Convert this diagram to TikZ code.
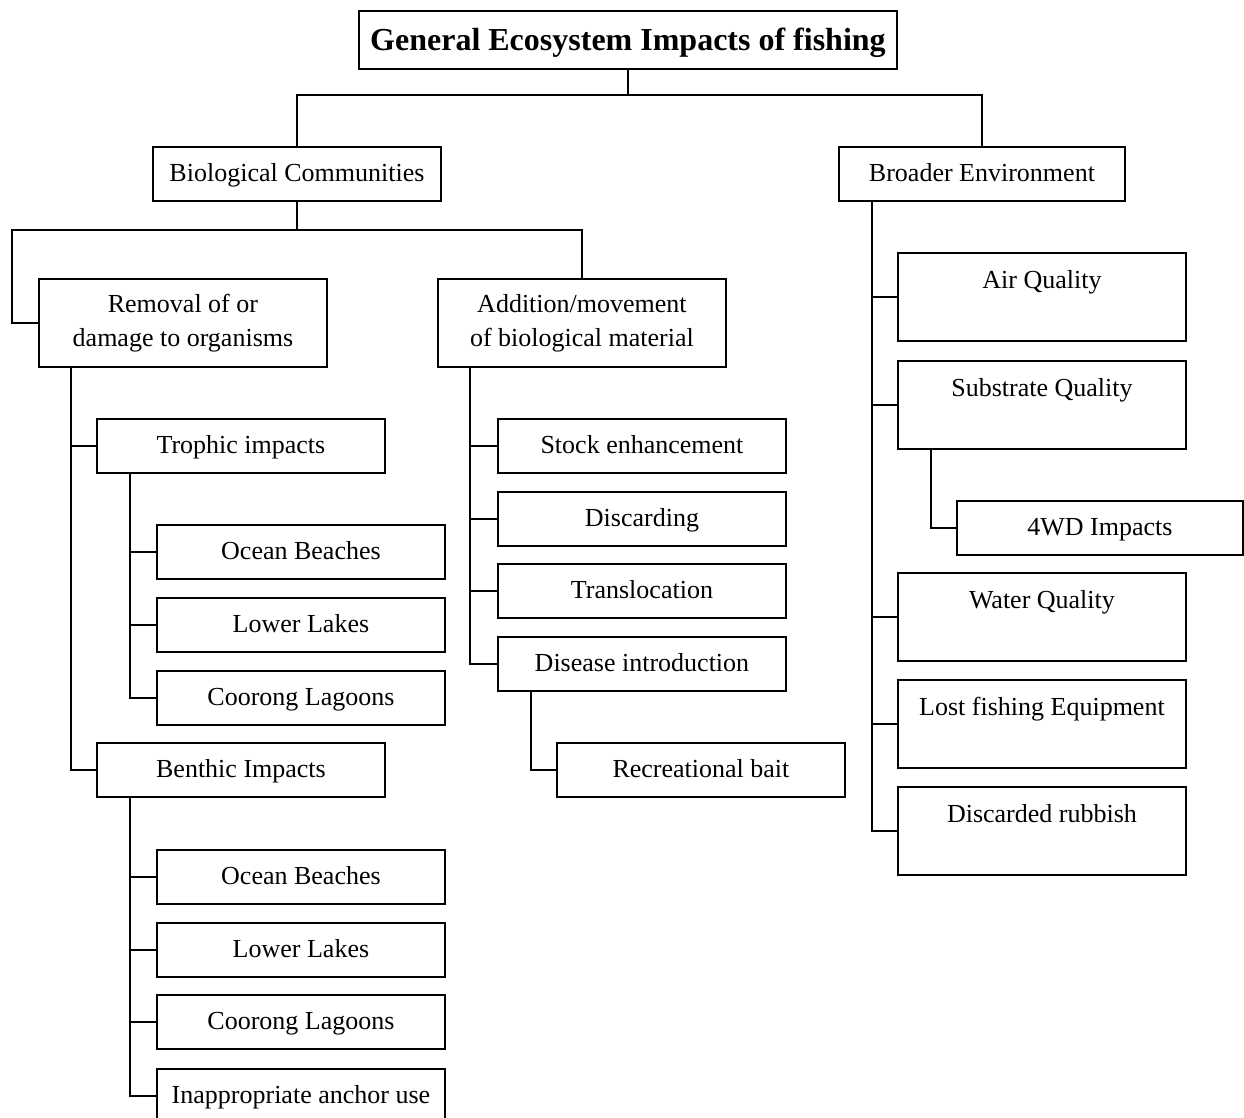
\documentclass[tikz,border=0pt]{standalone}
\usepackage{fontspec}
\setmainfont{Liberation Serif}
\begin{document}
\begin{tikzpicture}[x=1pt,y=-1pt,
  box/.style={draw, line width=1.9pt, anchor=north west, inner sep=0pt,
    minimum width=288pt, text height=35pt, text depth=19pt,
    font=\fontsize{26}{34}\selectfont},
  tallbox/.style={box, text height=36pt, text depth=52pt},
  twobox/.style={draw, line width=1.9pt, anchor=north west, inner sep=0pt,
    minimum width=288pt, minimum height=88pt, align=center,
    font=\fontsize{26}{34}\selectfont},
  titlebox/.style={draw, line width=1.9pt, anchor=north west, inner sep=0pt,
    minimum width=538pt, text height=40pt, text depth=18pt,
    font=\fontsize{32}{38}\selectfont\bfseries},
  link/.style={line width=1.9pt}
]
\useasboundingbox (0,0) rectangle (1244,1117);
\fill[white] (0,0) rectangle (1244,1117);

\node[titlebox] (title) at (358,10) {General Ecosystem Impacts of fishing};
\node[box] (bio) at (152,146) {Biological Communities};
\node[box, minimum width=286pt] (bro) at (838,146) {Broader Environment};

\node[twobox] (rem) at (38,278) {Removal of or\\damage to organisms};
\node[twobox] (add) at (437,278) {Addition/movement\\of biological material};

\node[box] (tro) at (96,418) {Trophic impacts};
\node[box] (ob1) at (156,524) {Ocean Beaches};
\node[box] (ll1) at (156,597) {Lower Lakes};
\node[box] (cl1) at (156,670) {Coorong Lagoons};
\node[box] (ben) at (96,742) {Benthic Impacts};
\node[box] (ob2) at (156,849) {Ocean Beaches};
\node[box] (ll2) at (156,922) {Lower Lakes};
\node[box] (cl2) at (156,994) {Coorong Lagoons};
\node[box] (anc) at (156,1068) {Inappropriate anchor use};

\node[box] (stk) at (497,418) {Stock enhancement};
\node[box] (dsc) at (497,491) {Discarding};
\node[box] (trl) at (497,563) {Translocation};
\node[box] (dis) at (497,636) {Disease introduction};
\node[box] (bait) at (556,742) {Recreational bait};

\node[tallbox] (air) at (897,252) {Air Quality};
\node[tallbox] (sub) at (897,360) {Substrate Quality};
\node[box, minimum width=286pt] (wd) at (956,500) {4WD Impacts};
\node[tallbox] (wat) at (897,572) {Water Quality};
\node[tallbox] (lost) at (897,679) {Lost fishing Equipment};
\node[tallbox] (rub) at (897,786) {Discarded rubbish};

% top level
\draw[link] (title.south) -- ++(0,25) coordinate (tj);
\draw[link] (tj) -| (bio.north);
\draw[link] (tj) -| (bro.north);

% biological communities
\draw[link] (bio.south) -- ++(0,28) coordinate (bj);
\draw[link] (bj) -| (add.north);
\draw[link] (bj) -| ([xshift=-26pt]rem.west) -- (rem.west);

% removal
\draw[link] ([xshift=33pt]rem.south west) |- (tro.west);
\draw[link] ([xshift=33pt]rem.south west) |- (ben.west);
\draw[link] ([xshift=34pt]tro.south west) |- (ob1.west);
\draw[link] ([xshift=34pt]tro.south west) |- (ll1.west);
\draw[link] ([xshift=34pt]tro.south west) |- (cl1.west);
\draw[link] ([xshift=34pt]ben.south west) |- (ob2.west);
\draw[link] ([xshift=34pt]ben.south west) |- (ll2.west);
\draw[link] ([xshift=34pt]ben.south west) |- (cl2.west);
\draw[link] ([xshift=34pt]ben.south west) |- (anc.west);

% addition
\draw[link] ([xshift=33pt]add.south west) |- (stk.west);
\draw[link] ([xshift=33pt]add.south west) |- (dsc.west);
\draw[link] ([xshift=33pt]add.south west) |- (trl.west);
\draw[link] ([xshift=33pt]add.south west) |- (dis.west);
\draw[link] ([xshift=34pt]dis.south west) |- (bait.west);

% broader environment
\draw[link] ([xshift=34pt]bro.south west) |- (air.west);
\draw[link] ([xshift=34pt]bro.south west) |- (sub.west);
\draw[link] ([xshift=34pt]bro.south west) |- (wat.west);
\draw[link] ([xshift=34pt]bro.south west) |- (lost.west);
\draw[link] ([xshift=34pt]bro.south west) |- (rub.west);
\draw[link] ([xshift=34pt]sub.south west) |- (wd.west);
\end{tikzpicture}
\end{document}
